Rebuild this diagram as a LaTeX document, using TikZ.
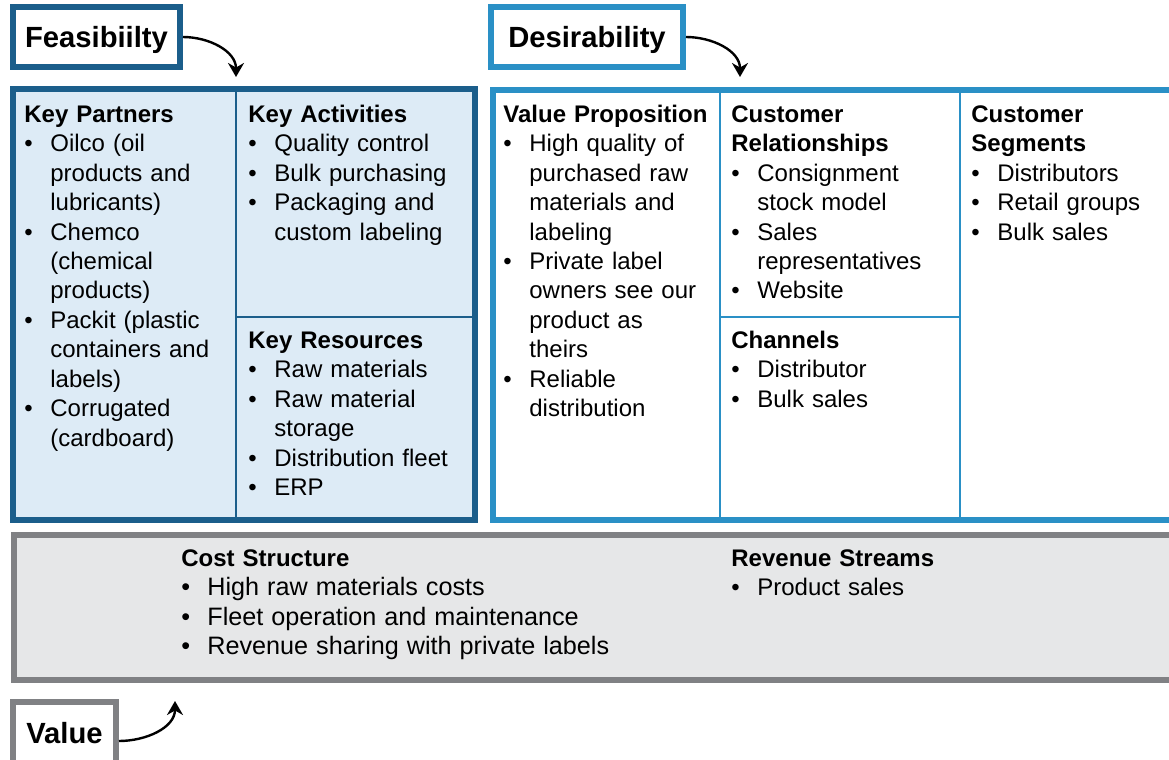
\documentclass[tikz,border=0pt]{standalone}
\usepackage{fontspec}
\setmainfont{Liberation Sans}
\usepackage{tikz}
\usetikzlibrary{arrows.meta, positioning}

\definecolor{feasblue}{HTML}{1B5E8B}
\definecolor{desblue}{HTML}{2A90C6}
\definecolor{feasfill}{HTML}{DDEBF6}
\definecolor{valgrey}{HTML}{808184}
\definecolor{valfill}{HTML}{E6E7E8}

\newcommand{\bitem}{\makebox[13pt][l]{\textbullet}}
\newcommand{\bcont}{\hspace*{13pt}}

\begin{document}
\begin{tikzpicture}[x=0.5pt, y=-0.5pt,
    lbl/.style={draw, line width=3pt, fill=white, inner sep=0pt,
      minimum height=30pt, text height=10.5pt, text depth=0pt,
      font=\bfseries\fontsize{14.6}{17}\selectfont},
    blk/.style={anchor=base west, inner sep=0pt, text width=#1, align=left,
      font=\fontsize{12}{14.75}\selectfont},
    blk/.default=150pt,
    curvarrow/.style={line width=1.2pt, -{Stealth[length=7pt, width=8pt]}}]
        \clip (0, 0) rectangle (1169, 760);

        \draw[line width=3pt, draw=feasblue, fill=feasfill] (13, 89) rectangle (475, 520);
        \draw[line width=3pt, draw=desblue, fill=white] (492.5, 89.5) rectangle (1200, 519.5);
        \draw[line width=3pt, draw=valgrey, fill=valfill] (13.5, 534.5) rectangle (1200, 679.5);

        \draw[line width=1pt, feasblue] (236, 91) -- (236, 518) (236, 317) -- (473, 317);
        \draw[line width=1pt, desblue] (720, 91) -- (720, 518) (960, 91) -- (960, 518)
          (720, 317) -- (960, 317);

        \node[blk] (kp) at (24, 122) {\textbf{Key Partners}\\
          \bitem Oilco (oil\\ \bcont products and\\ \bcont lubricants)\\
          \bitem Chemco\\ \bcont (chemical\\ \bcont products)\\
          \bitem Packit (plastic\\ \bcont containers and\\ \bcont labels)\\
          \bitem Corrugated\\ \bcont (cardboard)};
        \node[blk] (ka) at (248, 122) {\textbf{Key Activities}\\
          \bitem Quality control\\ \bitem Bulk purchasing\\
          \bitem Packaging and\\ \bcont custom labeling};
        \node[blk] (kr) at (248, 348) {\textbf{Key Resources}\\
          \bitem Raw materials\\ \bitem Raw material\\ \bcont storage\\
          \bitem Distribution fleet\\ \bitem ERP};
        \node[blk] (vp) at (503, 122) {\textbf{Value Proposition}\\
          \bitem High quality of\\ \bcont purchased raw\\ \bcont materials and\\ \bcont labeling\\
          \bitem Private label\\ \bcont owners see our\\ \bcont product as\\ \bcont theirs\\
          \bitem Reliable\\ \bcont distribution};
        \node[blk] (cr) at (731, 122) {\textbf{Customer}\\ \textbf{Relationships}\\
          \bitem Consignment\\ \bcont stock model\\
          \bitem Sales\\ \bcont representatives\\ \bitem Website};
        \node[blk] (ch) at (731, 348) {\textbf{Channels}\\
          \bitem Distributor\\ \bitem Bulk sales};
        \node[blk] (cs) at (971, 122) {\textbf{Customer}\\ \textbf{Segments}\\
          \bitem Distributors\\ \bitem Retail groups\\ \bitem Bulk sales};
        \node[blk=250pt] (cst) at (181, 566) {\textbf{Cost Structure}\\
          {\fontsize{12.6}{14.75}\selectfont
          \bitem High raw materials costs\\ \bitem Fleet operation and maintenance\\
          \bitem Revenue sharing with private labels}};
        \node[blk] (rs) at (731, 566) {\textbf{Revenue Streams}\\
          \bitem Product sales};

        \node[lbl, draw=feasblue, minimum width=83.5pt] (fe) at (96.5, 37) {Feasibiilty};
        \node[lbl, draw=desblue, minimum width=96pt] (de) at (587, 37) {Desirability};
        \node[lbl, draw=valgrey, minimum width=51.5pt, minimum height=31pt] (va) at (64.5, 733) {Value};

        \coordinate (fe-end) at (236, 77);
        \coordinate (de-end) at (740, 77);
        \coordinate (va-end) at (175, 701);

        \draw[curvarrow] (fe.east) to[out=0, in=90] (fe-end);
        \draw[curvarrow] (de.east) to[out=0, in=90] (de-end);
        \draw[curvarrow] ([yshift=-4pt]va.east) to[out=0, in=-90] (va-end);
      \end{tikzpicture}
\end{document}
